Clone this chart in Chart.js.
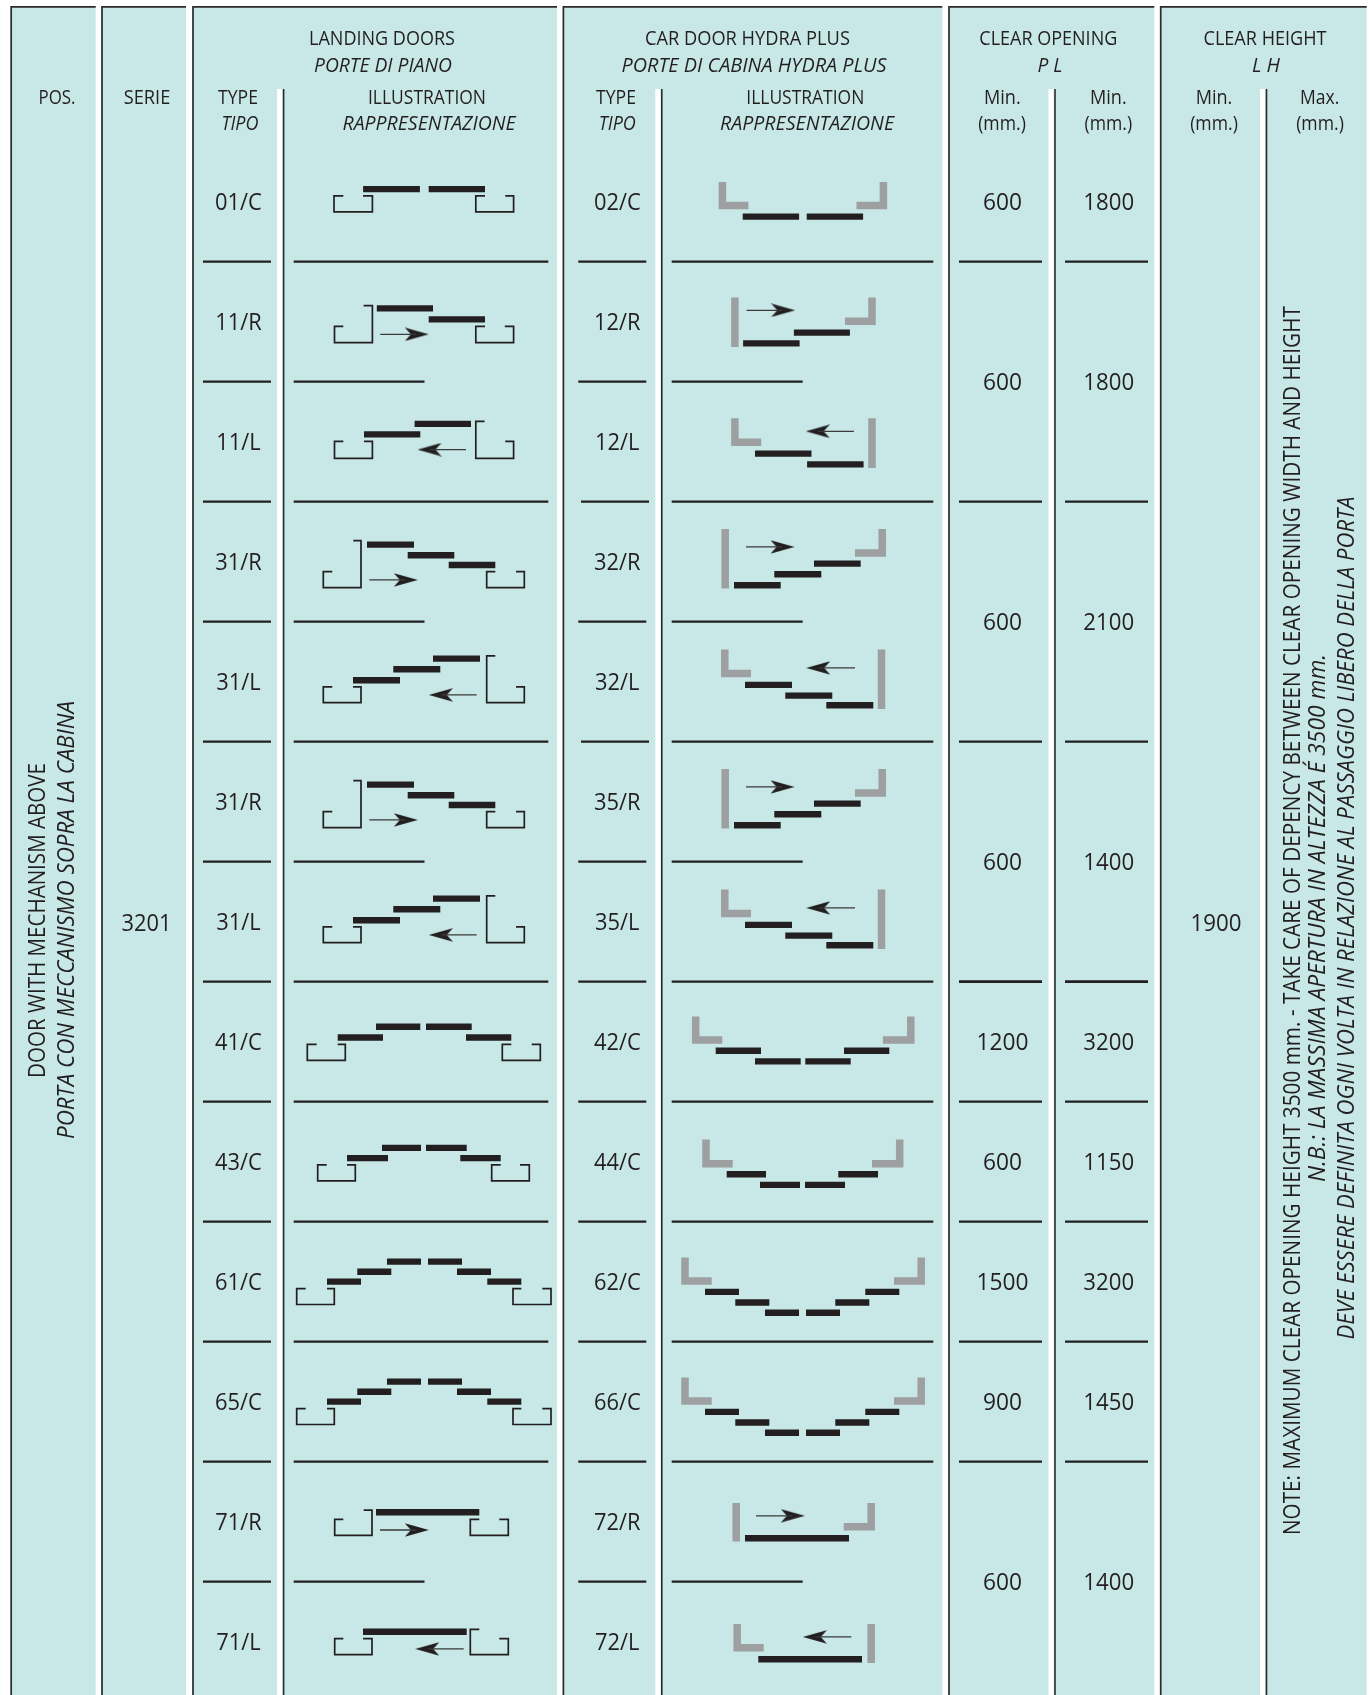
<!DOCTYPE html>
<html>
<head>
<meta charset="utf-8">
<title>Door types</title>
<script src="https://cdn.jsdelivr.net/npm/chart.js@4/dist/chart.umd.min.js"></script>
<style>
  html, body { margin: 0; padding: 0; background: #fff; }
  canvas { display: block; }
</style>
</head>
<body>
<canvas id="doors" width="1372" height="1695"></canvas>
<script>
// table content
const landingTypes = ['01/C', '11/R', '11/L', '31/R', '31/L', '31/R', '31/L', '41/C', '43/C', '61/C', '65/C', '71/R', '71/L'];
const carTypes = ['02/C', '12/R', '12/L', '32/R', '32/L', '35/R', '35/L', '42/C', '44/C', '62/C', '66/C', '72/R', '72/L'];
const openingRows = [[0, 1], [1, 3], [3, 5], [5, 7], [7, 8], [8, 9], [9, 10], [10, 11], [11, 13]];
const openingMin = ['600', '600', '600', '600', '1200', '600', '1500', '900', '600'];
const openingMax = ['1800', '1800', '2100', '1400', '3200', '1150', '3200', '1450', '1400'];
const serie = '3201';
const heightMin = '1900';

// door plans, one entry per table row, offsets from the centre of the cell
// leaves: [from, to, depth]
const landingLeaves = [
  [[-57.9, -1.1, -12.5], [7.7, 64, -12.5]],
  [[-44.2, 12, -13.2], [7.7, 64, -2.2]],
  [[-57, -0.7, -7.2], [-6.4, 50, -17.7]],
  [[-54, -7, -17], [-13.3, 33.3, -6.3], [27.7, 74.3, 3.4]],
  [[-68, -21, -1.3], [-27.7, 19.3, -12.3], [12, 59, -23]],
  [[-54, -7, -17], [-13.3, 33.3, -6.3], [27.7, 74.3, 3.4]],
  [[-68, -21, -1.3], [-27.7, 19.3, -12.3], [12, 59, -23]],
  [[-45, -0.7, -14.8], [5, 50.7, -14.8], [-83.3, -38, -4.1], [45, 90.3, -4.1]],
  [[-39, 0, -13.7], [5, 45.7, -13.7], [-74, -33, -3.5], [39.3, 79.7, -3.5]],
  [[-34, 0, -20], [7, 41, -20], [-63.7, -29.7, -9.9], [36, 70, -9.9], [-94, -60, 0], [66.3, 100.3, 0]],
  [[-34, 0, -20], [7, 41, -20], [-63.7, -29.7, -9.9], [36, 70, -9.9], [-94, -60, 0], [66.3, 100.3, 0]],
  [[-45, 58.3, -9.3]],
  [[-58, 45.7, -9.8]]
];
const carLeaves = [
  [[-59.8, -3.4, 15], [4.2, 60.6, 15]],
  [[-59.4, -2.9, 21.8], [-8.6, 47.4, 11]],
  [[-47.5, 9, 12], [4.6, 61.1, 22.8]],
  [[-68.5, -21.8, 23.7], [-28.2, 18.8, 12.7], [11.5, 58.2, 2]],
  [[-57.5, -10.5, 3.3], [-17.2, 29.8, 14], [23.8, 70.8, 23.7]],
  [[-68.5, -21.8, 23.7], [-28.2, 18.8, 12.7], [11.5, 58.2, 2]],
  [[-57.5, -10.5, 3.3], [-17.2, 29.8, 14], [23.8, 70.8, 23.7]],
  [[-86.8, -41.5, 9.2], [41.5, 86.8, 9.2], [-47.5, -1.8, 19.8], [2.8, 48.2, 19.8]],
  [[-75.8, -36.5, 12.6], [35.8, 75.5, 12.6], [-42.5, -2.5, 23.3], [2.5, 42.5, 23.3]],
  [[-97.5, -63.5, 10.3], [62.8, 96.8, 10.3], [-67.2, -33.2, 20.9], [32.8, 66.8, 20.9], [-37.5, -3.5, 31.1], [3.5, 37.5, 31.1]],
  [[-97.5, -63.5, 10.3], [62.8, 96.8, 10.3], [-67.2, -33.2, 20.9], [32.8, 66.8, 20.9], [-37.5, -3.5, 31.1], [3.5, 37.5, 31.1]],
  [[-57.5, 46.5, 16.6]],
  [[-44.2, 59.5, 17.7]]
];

// thin landing jambs: two polylines of [x, y]
const landingJambs = [
  [[[-77.7, -5.7], [-87, -5.7], [-87, 10.3], [-48.6, 10.3], [-48.6, -5.7], [-58, -5.7]], [[64, -5.7], [54.8, -5.7], [54.8, 10.3], [92.6, 10.3], [92.6, -5.7], [84.3, -5.7]]],
  [[[-57.4, -16], [-48.6, -16], [-48.6, 21], [-86.5, 21], [-86.5, 4.7], [-77.7, 4.7]], [[64, 4.7], [54.8, 4.7], [54.8, 21], [92.6, 21], [92.6, 4.7], [83.8, 4.7]]],
  [[[-77.7, -0.3], [-86.5, -0.3], [-86.5, 16.7], [-48.6, 16.7], [-48.6, -0.3], [-57, -0.3]], [[63.6, -20.3], [54.8, -20.3], [54.8, 16.7], [92.6, 16.7], [92.6, -0.3], [84.3, -0.3]]],
  [[[-67.7, -21], [-60, -21], [-60, 26], [-97.7, 26], [-97.7, 10], [-88.7, 10]], [[74.3, 10], [65.7, 10], [65.7, 26], [103.3, 26], [103.3, 10], [95, 10]]],
  [[[-88.7, 5.3], [-97.7, 5.3], [-97.7, 21], [-60, 21], [-60, 5.3], [-68, 5.3]], [[74.3, -25.7], [65.7, -25.7], [65.7, 21], [103.3, 21], [103.3, 5.3], [95, 5.3]]],
  [[[-67.7, -21], [-60, -21], [-60, 26], [-97.7, 26], [-97.7, 10], [-88.7, 10]], [[74.3, 10], [65.7, 10], [65.7, 26], [103.3, 26], [103.3, 10], [95, 10]]],
  [[[-88.7, 5.3], [-97.7, 5.3], [-97.7, 21], [-60, 21], [-60, 5.3], [-68, 5.3]], [[74.3, -25.7], [65.7, -25.7], [65.7, 21], [103.3, 21], [103.3, 5.3], [95, 5.3]]],
  [[[-104.3, 2.7], [-113.7, 2.7], [-113.7, 18.7], [-75.7, 18.7], [-75.7, 2.7], [-83.3, 2.7]], [[90.3, 2.7], [81.3, 2.7], [81.3, 18.7], [119.3, 18.7], [119.3, 2.7], [110.7, 2.7]]],
  [[[-94.3, 3.3], [-103.3, 3.3], [-103.3, 19.3], [-65.7, 19.3], [-65.7, 3.3], [-74, 3.3]], [[79.7, 3.3], [70.7, 3.3], [70.7, 19.3], [108.3, 19.3], [108.3, 3.3], [99, 3.3]]],
  [[[-115.3, 7], [-124.3, 7], [-124.3, 22.9], [-86.7, 22.9], [-86.7, 7], [-94, 7]], [[100.3, 7], [92, 7], [92, 22.9], [130, 22.9], [130, 7], [121.3, 7]]],
  [[[-115.3, 7], [-124.3, 7], [-124.3, 22.9], [-86.7, 22.9], [-86.7, 7], [-94, 7]], [[100.3, 7], [92, 7], [92, 22.9], [130, 22.9], [130, 7], [121.3, 7]]],
  [[[-57.3, -11.5], [-49, -11.5], [-49, 13.7], [-86.3, 13.7], [-86.3, -2.2], [-77.7, -2.2]], [[58.3, -2.2], [49.3, -2.2], [49.3, 13.7], [87.3, 13.7], [87.3, -2.2], [78.3, -2.2]]],
  [[[-77.7, -2.9], [-86.3, -2.9], [-86.3, 13], [-49, 13], [-49, -2.9], [-58, -2.9]], [[58.3, -12.2], [49.3, -12.2], [49.3, 13], [87.3, 13], [87.3, -2.9], [78.3, -2.9]]]
];

// grey car jambs: two polylines of [x, y]
const carJambs = [
  [[[-80.1, -19.7], [-80.1, 4], [-54.1, 4]], [[54, 4], [80.9, 4], [80.9, -19.7]]],
  [[[-67.6, -24], [-67.6, 25.3]], [[42.5, -0.3], [69.5, -0.3], [69.5, -24]]],
  [[[-67.6, -23.3], [-67.6, 0.7], [-41.3, 0.7]], [[69.5, -23.3], [69.5, 26.3]]],
  [[[-77.3, -32.7], [-77.3, 27]], [[52.5, -8.7], [79.7, -8.7], [79.7, -32.7]]],
  [[[-77.7, -32], [-77.7, -8], [-51.5, -8]], [[79, -32], [79, 27.3]]],
  [[[-77.3, -32.7], [-77.3, 27]], [[52.5, -8.7], [79.7, -8.7], [79.7, -32.7]]],
  [[[-77.7, -32], [-77.7, -8], [-51.5, -8]], [[79, -32], [79, 27.3]]],
  [[[-106.8, -25.2], [-106.8, -1.5], [-80.2, -1.5]], [[80.5, -1.5], [108.3, -1.5], [108.3, -25.2]]],
  [[[-96.5, -22], [-96.5, 2.2], [-69.8, 2.2]], [[69.5, 2.2], [97.2, 2.2], [97.2, -22]]],
  [[[-117.5, -24], [-117.5, -0.6], [-90.8, -0.6]], [[91.5, -0.6], [118.7, -0.6], [118.7, -24]]],
  [[[-117.5, -24], [-117.5, -0.6], [-90.8, -0.6]], [[91.5, -0.6], [118.7, -0.6], [118.7, -24]]],
  [[[-66.3, -18.6], [-66.3, 20]], [[41.2, 5.1], [68.7, 5.1], [68.7, -18.6]]],
  [[[-65.3, -17.6], [-65.3, 6.2], [-38.8, 6.2]], [[68.7, -17.6], [68.7, 21.5]]]
];

// arrows: [tail, tip, depth], null where the door has no direction
const landingArrows = [null, [-40.7, 7.3, 12.7], [45, -3, 8], [-51.7, -3.7, 18.3], [55.7, 8.3, 13.3], [-51.7, -3.7, 18.3], [55.7, 8.3, 13.3], null, null, null, null, [-41, 7.3, 8.4], [42.7, -5.3, 7.3]];
const carArrows = [null, [-55.9, -7.8, -11.3], [51.4, 3.7, -10.3], [-56.5, -8.5, -14.7], [52.5, 4.2, -13.7], [-56.5, -8.5, -14.7], [52.5, 4.2, -13.7], null, null, null, null, [-46.5, 1.8, -5.8], [48.8, 0.8, -4.7]];

// page layout, same units as the picture
const PAGE_W = 1372, PAGE_H = 1695;
const ROW_TOP = 141.6, ROW_H = 120;
const TOP_Y = 6.9, DIVIDER_TOP = 89;
const LANDING_CX = 421, CAR_CX = 802.5;
const TEXT_DROP = 1.4; // the font's middle sits above the caps' middle
const panels = [[10.5, 95.7], [101.3, 186], [192.3, 557], [562.7, 942.3], [948.3, 1154.3], [1160, 1366.7]];
const dividers = [283.6, 661.8, 1055, 1266.5];
const INK = '#231f20', GREY = '#9d9fa1', TEAL = '#c8e8e7';
const FONT = '"Open Sans", sans-serif';

// [text, centre x, centre y, width, italic]
const headerTexts = [
  ['POS.', 57, 96.7, 37], ['SERIE', 147, 96.7, 46.6],
  ['LANDING DOORS', 382, 37.7, 146], ['PORTE DI PIANO', 383, 64.5, 138, true],
  ['TYPE', 238, 96.7, 40], ['TIPO', 240, 122.7, 37, true],
  ['ILLUSTRATION', 427, 96.7, 118], ['RAPPRESENTAZIONE', 429, 122.7, 173, true],
  ['CAR DOOR HYDRA PLUS', 747.4, 37.7, 205], ['PORTE DI CABINA HYDRA PLUS', 754, 64.5, 265, true],
  ['TYPE', 616, 96.7, 40], ['TIPO', 617.3, 122.7, 37, true],
  ['ILLUSTRATION', 805.3, 96.7, 118], ['RAPPRESENTAZIONE', 807, 122.7, 174, true],
  ['CLEAR OPENING', 1048.3, 37.7, 138], ['P L', 1050, 64.5, 25, true],
  ['Min.', 1002.3, 96.7, 36.7], ['(mm.)', 1002, 122.7, 47.7],
  ['Min.', 1108.3, 96.7, 36.7], ['(mm.)', 1108.3, 122.7, 47.7],
  ['CLEAR HEIGHT', 1265, 37.7, 123], ['L H', 1266, 64.5, 28, true],
  ['Min.', 1214, 96.7, 36.7], ['(mm.)', 1214, 122.7, 47.7],
  ['Max.', 1319.7, 96.7, 39.3], ['(mm.)', 1320, 122.7, 47.7]
];
// [text, centre x, centre y, length, italic]
const sideTexts = [
  ['DOOR WITH MECHANISM ABOVE', 38.2, 920.5, 315],
  ['PORTA CON MECCANISMO SOPRA LA CABINA', 67.2, 920, 438, true],
  ['NOTE: MAXIMUM CLEAR OPENING HEIGHT 3500 mm. - TAKE CARE OF DEPENCY BETWEEN CLEAR OPENING WIDTH AND HEIGHT', 1293, 920.6, 1229],
  ['N.B.: LA MASSIMA APERTURA IN ALTEZZA É 3500 mm.', 1318, 918, 528, true],
  ['DEVE ESSERE DEFINITA OGNI VOLTA IN RELAZIONE AL PASSAGGIO LIBERO DELLA PORTA', 1347, 918, 843, true]
];

function rowCentre(i) { return ROW_TOP + ROW_H * (i + 0.5); }
function rowEdge(i) { return ROW_TOP + ROW_H * (i + 1); }
function isInsidePair(i) { return openingRows.some(r => r[1] - r[0] === 2 && r[0] === i); }

// line points, a gap point between the separate strokes
function strokes(list) {
  const pts = [];
  list.forEach(s => {
    s.forEach(p => pts.push({ x: p[0], y: p[1] }));
    pts.push({ x: null, y: null });
  });
  return pts;
}

function lineSet(label, list, color, width) {
  return {
    label: label,
    data: strokes(list),
    showLine: true,
    borderColor: color,
    borderWidth: width,
    borderCapStyle: 'butt',
    borderJoinStyle: 'miter',
    pointRadius: 0,
    tension: 0,
    clip: false
  };
}

// separators between the rows
const rowLines = [];
const openingLines = [];
const heavyLines = [];
for (let i = 0; i < 12; i++) {
  const y = rowEdge(i);
  const pair = isInsidePair(i);
  const carShift = (i === 2 || i === 4) ? 2.7 : 0;
  rowLines.push([[203, y], [271, y]]);
  rowLines.push([[293.7, y], [pair ? 424.5 : 548.3, y]]);
  rowLines.push([[578.3 + carShift, y], [646.3 + carShift, y]]);
  rowLines.push([[671.7, y], [pair ? 802.7 : 933.3, y]]);
  if (!pair) {
    const target = i === 6 ? heavyLines : openingLines;
    target.push([[959, y], [1042, y]]);
    target.push([[1065, y], [1148, y]]);
  }
}

// panel edges and column dividers
const edgeLines = panels.map(p => [[p[1], TOP_Y], [p[0] + 0.7, TOP_Y], [p[0] + 0.7, PAGE_H]]);
const whiteStrips = dividers.map(x => [[x - 4, DIVIDER_TOP], [x - 4, PAGE_H]]);
const dividerLines = dividers.map(x => [[x, DIVIDER_TOP], [x, PAGE_H]]);

// door plans moved to their rows
const leafLines = [];
const thinJambs = [];
const greyJambs = [];
const shafts = [];
const headsRight = [];
const headsLeft = [];
function addPlans(cx, leaves, arrows) {
  leaves.forEach((row, i) => {
    row.forEach(l => leafLines.push([[cx + l[0], rowCentre(i) + l[2]], [cx + l[1], rowCentre(i) + l[2]]]));
    const a = arrows[i];
    if (a) {
      const y = rowCentre(i) + a[2];
      const right = a[1] > a[0];
      shafts.push([[cx + a[0], y], [cx + a[1] + (right ? -12 : 12), y]]);
      (right ? headsRight : headsLeft).push({ x: cx + a[1] + (right ? -11.5 : 11.5), y: y });
    }
  });
}
addPlans(LANDING_CX, landingLeaves, landingArrows);
addPlans(CAR_CX, carLeaves, carArrows);
landingJambs.forEach((row, i) => row.forEach(j => thinJambs.push(j.map(p => [LANDING_CX + p[0], rowCentre(i) + p[1]]))));
carJambs.forEach((row, i) => row.forEach(j => greyJambs.push(j.map(p => [CAR_CX + p[0], rowCentre(i) + p[1]]))));

// barbed arrow head used as point style
function arrowHead(pointsRight) {
  const c = document.createElement('canvas');
  c.width = 24;
  c.height = 14;
  const g = c.getContext('2d');
  g.fillStyle = INK;
  g.beginPath();
  if (pointsRight) {
    g.moveTo(24, 7); g.lineTo(0, 0.3); g.lineTo(6, 7); g.lineTo(0, 13.7);
  } else {
    g.moveTo(0, 7); g.lineTo(24, 0.3); g.lineTo(18, 7); g.lineTo(24, 13.7);
  }
  g.closePath();
  g.fill();
  return c;
}

function headSet(label, points, right) {
  return {
    label: label,
    data: points,
    showLine: false,
    pointStyle: arrowHead(right),
    pointRadius: 6,
    clip: false
  };
}

const tablePlugin = {
  id: 'tablePlugin',
  beforeDatasetsDraw(chart) {
    const ctx = chart.ctx, xs = chart.scales.x, ys = chart.scales.y;
    ctx.save();
    ctx.fillStyle = TEAL;
    panels.forEach(p => {
      const l = xs.getPixelForValue(p[0]);
      const t = ys.getPixelForValue(TOP_Y);
      ctx.fillRect(l, t, xs.getPixelForValue(p[1]) - l, ys.getPixelForValue(PAGE_H) - t);
    });
    ctx.restore();
  },
  afterDatasetsDraw(chart) {
    const ctx = chart.ctx, xs = chart.scales.x, ys = chart.scales.y;
    // width squeezes the glyphs to the length measured in the picture
    function put(text, x, y, size, opt) {
      ctx.save();
      ctx.translate(xs.getPixelForValue(x), ys.getPixelForValue(opt.side ? y : y + TEXT_DROP));
      if (opt.side) ctx.rotate(-Math.PI / 2);
      ctx.font = (opt.italic ? 'italic ' : '') + size + 'px ' + FONT;
      ctx.fillStyle = INK;
      ctx.textAlign = 'center';
      ctx.textBaseline = 'middle';
      const w = ctx.measureText(text).width;
      const sx = opt.width ? opt.width / w : (opt.squeeze || 1);
      ctx.scale(sx, 1);
      ctx.fillText(text, 0, 0);
      ctx.restore();
    }
    headerTexts.forEach(t => put(t[0], t[1], t[2], 20, { width: t[3], italic: t[4] }));
    sideTexts.forEach(t => put(t[0], t[1], t[2], 23, { width: t[3], italic: t[4], side: true }));
    landingTypes.forEach((t, i) => put(t, 238.5, rowCentre(i), 23, { squeeze: 0.95 }));
    carTypes.forEach((t, i) => put(t, 617.3, rowCentre(i), 23, { squeeze: 0.95 }));
    openingRows.forEach((r, i) => {
      const y = ROW_TOP + ROW_H * (r[0] + r[1]) / 2;
      put(openingMin[i], 1002.5, y, 23, { width: openingMin[i].length * 13 });
      put(openingMax[i], 1108.7, y, 23, { width: openingMax[i].length * 12.7 });
    });
    put(serie, 146.5, 923.5, 23, { width: 50 });
    put(heightMin, 1216, 923.5, 23, { width: 51 });
  }
};

new Chart(document.getElementById('doors').getContext('2d'), {
  type: 'scatter',
  data: {
    datasets: [
      lineSet('white strips', whiteStrips, '#ffffff', 5),
      lineSet('panel edges', edgeLines, '#2b2b2b', 1.7),
      lineSet('dividers', dividerLines, '#2b2b2b', 1.6),
      lineSet('row lines', rowLines, INK, 2.1),
      lineSet('opening lines', openingLines, INK, 2.1),
      lineSet('heavy opening lines', heavyLines, INK, 2.9),
      lineSet('car jambs', greyJambs, GREY, 7.5),
      lineSet('landing jambs', thinJambs, INK, 1.7),
      lineSet('leaves', leafLines, INK, 6.4),
      lineSet('arrow shafts', shafts, '#3a3a3a', 1.3),
      headSet('arrows right', headsRight, true),
      headSet('arrows left', headsLeft, false)
    ]
  },
  options: {
    responsive: false,
    animation: false,
    devicePixelRatio: 1,
    layout: { padding: 0, autoPadding: false },
    plugins: { legend: { display: false }, tooltip: { enabled: false } },
    scales: {
      x: { type: 'linear', display: false, min: 0, max: PAGE_W },
      y: { type: 'linear', display: false, min: 0, max: PAGE_H, reverse: true }
    }
  },
  plugins: [tablePlugin]
});
</script>
</body>
</html>
